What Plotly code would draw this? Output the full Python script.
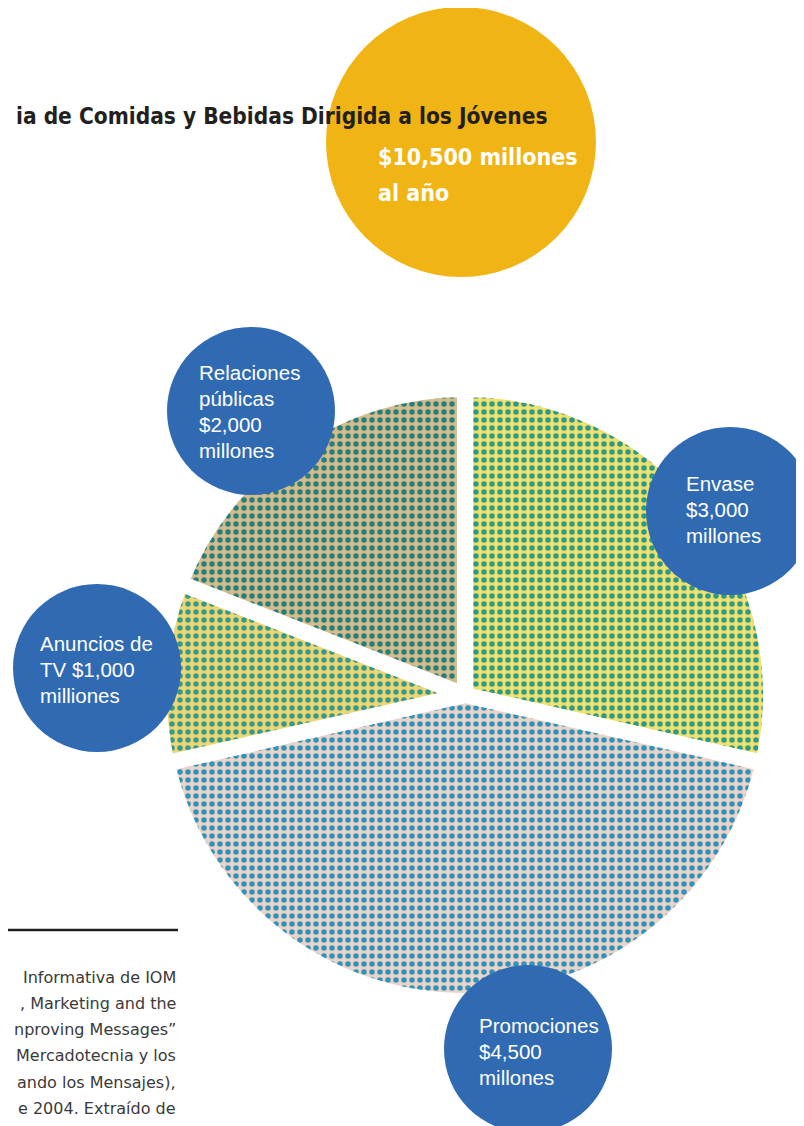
import plotly.graph_objects as go

# ---- data ----
categories = ["Envase", "Promociones", "Anuncios de TV", "Relaciones públicas"]
values = [3000, 4500, 1000, 2000]  # millones de dólares
label_lines = [
    ["Envase", "$3,000", "millones"],
    ["Promociones", "$4,500", "millones"],
    ["Anuncios de", "TV $1,000", "milliones"],
    ["Relaciones", "públicas", "$2,000", "millones"],
]
total_lines = ["$10,500 millones", "al año"]
title_text = "ia de Comidas y Bebidas Dirigida a los Jóvenes"
footer_lines = [
    "Informativa de IOM",
    ", Marketing and the",
    "nproving Messages”",
    "Mercadotecnia y los",
    "ando los Mensajes),",
    "e 2004. Extraído de",
]

# ---- styling / layout (pixels in the final page) ----
W, H = 804, 1126
OFF = 8  # page body margin
bg_cols = ["#efe070", "#ecd3c8", "#eed773", "#d6bb8a"]
dot_cols = ["#2f9a84", "#2f93bb", "#36998a", "#267f7c"]
BLUE = "#2f6ab3"
GOLD = "#f0b414"

def px(x):
    return (x - OFF) / W

def py(y):
    return 1 - (y - OFF) / H

pie_cx, pie_cy, pie_r = 465, 695, 306

fig = go.Figure()
fig.add_trace(go.Pie(
    labels=categories,
    values=values,
    sort=False,
    direction="clockwise",
    rotation=0,
    textinfo="none",
    hoverinfo="label+value",
    showlegend=False,
    marker=dict(
        colors=bg_cols,
        line=dict(color="white", width=16),
        pattern=dict(shape=".", fgcolor=dot_cols, bgcolor=bg_cols,
                     size=8, solidity=0.38),
    ),
    domain=dict(
        x=[px(pie_cx - pie_r), px(pie_cx + pie_r)],
        y=[py(pie_cy + pie_r), py(pie_cy - pie_r)],
    ),
))

shapes = []
annotations = []

def circle(cx, cy, r, color):
    shapes.append(dict(
        type="circle", xref="paper", yref="paper", layer="above",
        x0=px(cx - r), x1=px(cx + r), y0=py(cy + r), y1=py(cy - r),
        fillcolor=color, line=dict(width=0),
    ))

def text(x, y, t, size, family, color, xanchor="left"):
    annotations.append(dict(
        xref="paper", yref="paper", x=px(x), y=py(y),
        xanchor=xanchor, yanchor="middle", showarrow=False,
        text=t, font=dict(family=family, size=size, color=color),
    ))

# gold total circle
circle(461, 142, 135, GOLD)

# blue label circles: (circle cx, cy, r, text left x, first line y)
label_pos = [
    (730, 511, 84, 684, 483),
    (528, 1049, 84, 477, 1025),
    (97, 668, 84, 38, 643),
    (251, 411, 84, 197, 372),
]
LS = 26.3
for lines, (cx, cy, r, tx, ty) in zip(label_lines, label_pos):
    circle(cx, cy, r, BLUE)
    for i, ln in enumerate(lines):
        text(tx, ty + LS * i, ln, 20.5, "Liberation Sans, Arial, sans-serif", "white")

# title
COND = "DejaVu Sans Condensed, Liberation Sans Narrow, Arial, sans-serif"
text(549, 116, "<b>" + title_text + "</b>", 22.5, COND, "#231f20", xanchor="right")

# total text in gold circle
for i, t in enumerate(total_lines):
    text(376, 157 + 36 * i, "<b>" + t + "</b>", 23, COND, "white")

# footer rule + text
shapes.append(dict(
    type="line", xref="paper", yref="paper", layer="above",
    x0=px(0), x1=px(178), y0=py(930), y1=py(930),
    line=dict(color="#231f20", width=2.5),
))
for i, t in enumerate(footer_lines):
    text(178, 977 + 26.3 * i, t, 16, "DejaVu Sans, Arial, sans-serif", "#3a3a3a",
         xanchor="right")

fig.update_layout(
    width=W, height=H,
    margin=dict(l=0, r=0, t=0, b=0),
    paper_bgcolor="white",
    plot_bgcolor="white",
    shapes=shapes,
    annotations=annotations,
)

fig.write_html("out.html")
